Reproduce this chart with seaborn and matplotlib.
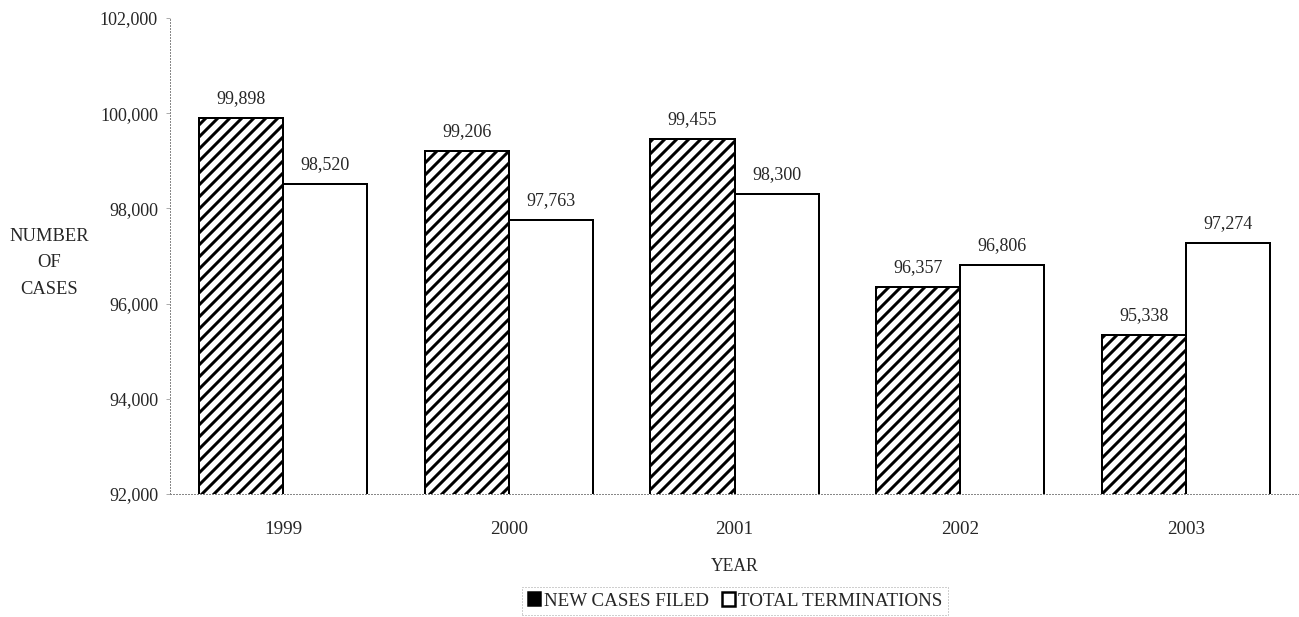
#!/usr/bin/env python

import matplotlib.pyplot as plt
import pandas as pd
import seaborn as sns
from matplotlib.patches import Patch
from matplotlib.ticker import FuncFormatter

years = ['1999', '2000', '2001', '2002', '2003']
new_cases = [99898, 99206, 99455, 96357, 95338]
terminations = [98520, 97763, 98300, 96806, 97274]
series_names = ['NEW CASES FILED', 'TOTAL TERMINATIONS']
y_ticks = [92000, 94000, 96000, 98000, 100000, 102000]


def build_frame():
    """Long-format table for seaborn."""
    return pd.DataFrame({
        'year': years * 2,
        'cases': new_cases + terminations,
        'series': [series_names[0]] * len(years) + [series_names[1]] * len(years),
    })


def main():
    sns.set_theme(style='white')
    plt.rcParams['font.family'] = ['Liberation Serif', 'DejaVu Serif']
    plt.rcParams['hatch.linewidth'] = 3.0
    plt.rcParams['hatch.color'] = 'black'

    # dpi 72 so points == pixels, hatch cell is 72px
    fig = plt.figure(figsize=(1299 / 72, 617 / 72), dpi=72)
    ax = fig.add_axes([170 / 1299, 1 - 494 / 617, 1 - 170 / 1299, (494 - 18) / 617])

    data = build_frame()
    sns.barplot(
        data=data, x='year', y='cases', hue='series',
        palette=['white', 'white'], width=0.745, saturation=1,
        edgecolor='black', linewidth=2.0, legend=False, ax=ax,
    )

    for bar in ax.containers[0]:
        bar.set_hatch('//')

    for container in ax.containers:
        ax.bar_label(container, labels=[f'{v:,.0f}' for v in container.datavalues],
                     padding=11, fontsize=18)

    ax.set_ylim(92000, 102000)
    ax.set_xlim(-0.5, 4.5)
    ax.set_yticks(y_ticks)
    ax.yaxis.set_major_formatter(FuncFormatter(lambda v, _: f'{v:,.0f}'))
    ax.tick_params(axis='y', left=True, length=4, width=0.8, color='#999999',
                   pad=8, labelsize=18)
    ax.tick_params(axis='x', bottom=False, pad=21, labelsize=19)

    for side in ['top', 'right']:
        ax.spines[side].set_visible(False)
    for side in ['left', 'bottom']:
        ax.spines[side].set_linestyle((0, (1, 2)))
        ax.spines[side].set_color('#888888')
        ax.spines[side].set_linewidth(1.0)

    ax.set_xlabel('YEAR', fontsize=17.5, labelpad=20)
    ax.set_ylabel('')
    fig.text(49 / 1299, 1 - 263 / 617, 'NUMBER\nOF\nCASES', ha='center', va='center',
             fontsize=18.5, linespacing=1.7)

    handles = [
        Patch(facecolor='black', edgecolor='black', linewidth=1.5),
        Patch(facecolor='white', edgecolor='black', linewidth=2.5),
    ]
    leg = fig.legend(handles, series_names, loc='center', ncol=2,
                     bbox_to_anchor=(735 / 1299, 1 - 601 / 617),
                     fontsize=19, frameon=True, fancybox=False,
                     handlelength=0.7, handleheight=0.7, handletextpad=0.15,
                     columnspacing=0.65, borderpad=0.3, borderaxespad=0)
    frame = leg.get_frame()
    frame.set_linestyle((0, (1, 2)))
    frame.set_edgecolor('#888888')
    frame.set_linewidth(1.0)

    fig.savefig('out.png', dpi=72, facecolor='white')


if __name__ == '__main__':
    main()
